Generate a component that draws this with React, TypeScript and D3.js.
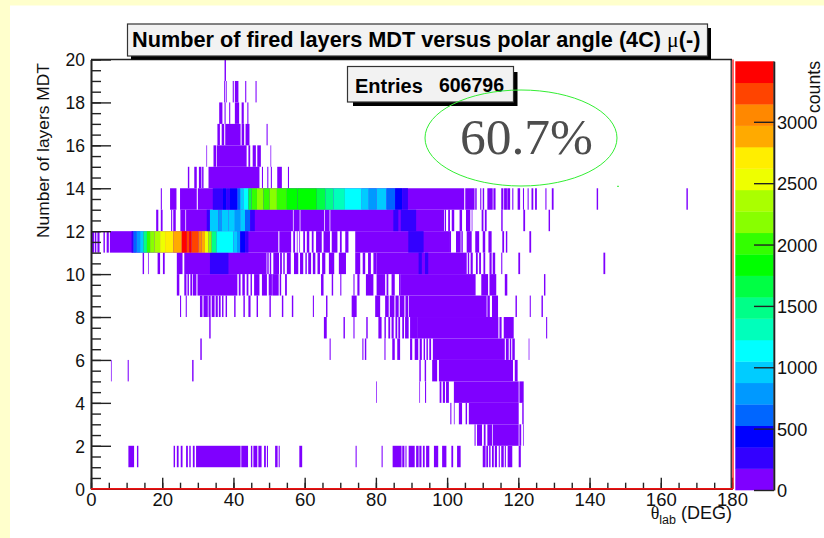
import React, { useEffect, useRef } from 'react';
import * as d3 from 'd3';

type Run = [number, number, number?];

const LOW = 60; // single low bins, all of them land in the first palette band

// palette bands from 0 counts upward
const palette = [
  '#7f00ff', '#3300ff', '#0000ff', '#0066ff', '#0099ff', '#00ccff', '#00ffff', '#00ffbb', '#00ff88', '#00ff44',
  '#00ff00', '#33ff00', '#88ff00', '#aaff00', '#eeff00', '#ffee00', '#ffaa00', '#ff8800', '#ff4400', '#ff0000',
];
const zMax = 3493;

const xMajor = [0, 20, 40, 60, 80, 100, 120, 140, 160, 180];
const xMinor = d3.range(0, 181, 5);
const yMajor = [0, 2, 4, 6, 8, 10, 12, 14, 16, 18, 20];
const yMinor = d3.range(0, 20.1, 0.5);
const zTicks = [0, 500, 1000, 1500, 2000, 2500, 3000];

// runs of filled bins per row of layers, [from deg, to deg, count]
const row1: Run[] = [[10.5, 12.1], [12.9, 13.3], [23.2, 23.6], [24.1, 24.6], [25.2, 25.7], [26.7, 27.2], [27.6, 28], [28.6, 29.1], [29.5, 42], [42.2, 44.1], [44.9, 45.3], [45.6, 46.7], [47, 47.9], [48.6, 49.1], [49.4, 49.7], [51.7, 52.4], [52.7, 53], [58.5, 59.3], [74.3, 74.6], [81.6, 81.9], [84.7, 87.2], [87.4, 88], [88.3, 88.6], [89.2, 90.9], [91.3, 92], [92.2, 92.8], [93.2, 93.7], [94.1, 95], [96.3, 97.5], [98.6, 99.8], [101.2, 101.7], [102.8, 103.8], [110, 110.8], [111, 111.5], [111.8, 112.2], [112.6, 113.1], [113.4, 114], [114.5, 114.8], [115.2, 115.9], [116.2, 116.5], [117, 118.3], [120.1, 120.7]];
const row2: Run[] = [[107.7, 108], [108.4, 109.8], [110.3, 110.8], [111.3, 112.6], [112.8, 120.1], [120.3, 120.8], [121.3, 121.5]];
const row3: Run[] = [[100.9, 101.2], [101.9, 102.1], [103.3, 104.2], [105.2, 105.6], [106.1, 120.1], [121.1, 121.5]];
const row4: Run[] = [[80.1, 80.3], [92.2, 92.4], [93.8, 94.1], [97.9, 98.4], [98.8, 99.4], [99.7, 100.5], [101.9, 120.1], [120.3, 121.5]];
const row5: Run[] = [[5.6, 5.8], [10.3, 10.6], [28.4, 28.8], [92.2, 92.6], [93.7, 94.1], [95.8, 97.2], [97.7, 118.5], [119, 119.8]];
const row6: Run[] = [[30.7, 31.1], [67, 67.3], [76.2, 76.5], [76.9, 77.3], [82.4, 82.7], [84.6, 85.3], [86, 86.8], [89.6, 90.2], [90.9, 91.9], [92.3, 92.9], [93.4, 93.8], [94.2, 94.6], [95, 95.5], [96, 116.2], [116.5, 117.3], [117.6, 118], [118.3, 119], [122.9, 123.1]];
const row7: Run[] = [[33.2, 33.6], [65.4, 66.2], [70.9, 71.3], [73.7, 74], [77.3, 77.7], [80.7, 81.6], [82.4, 82.8], [83.5, 84], [84.4, 85], [85.5, 86], [86.3, 86.8], [87.4, 87.9], [88.2, 89.2], [89.6, 91.8], [91.8, 114.4], [114.7, 115.3], [115.9, 118.7], [127.8, 128.1]];
const row8: Run[] = [[25, 25.3], [26.6, 26.9], [30.6, 31.3], [31.6, 32.8], [33, 33.6], [33.9, 34.7], [35, 35.6], [35.9, 36.4], [36.8, 37.2], [37.8, 38.2], [40.2, 40.6], [42.8, 43.2], [44.2, 44.8], [46.5, 46.9], [50.1, 50.5], [53.6, 54], [56.4, 56.8], [62.3, 62.6], [66, 66.4], [73.2, 74.6], [79.8, 81.2], [82.6, 83.6], [83.9, 85.2], [85.5, 86.4], [86.7, 88], [88.3, 89.1], [89.3, 111.1], [111.3, 112], [112.6, 114.3], [119.2, 119.6], [123.2, 123.5], [126.5, 126.9]];
const row9: Run[] = [[24.1, 24.8], [26.2, 26.8], [27.1, 27.5], [27.9, 28.4], [28.6, 29.6], [29.9, 41.1], [41.5, 42], [42.5, 43.2], [43.7, 44.2], [44.8, 45.2], [45.8, 47.3], [48, 49.4], [49.9, 50.8], [50.9, 52.7], [53, 53.4], [54.5, 55], [64.6, 65.3], [67.6, 68], [70, 70.3], [73.7, 74], [74.8, 75.4], [77.2, 79.3], [80.2, 82.6], [83, 83.5], [84.4, 85.3], [86.5, 87], [87, 108], [109.6, 111.5], [111.9, 113.8], [116.2, 116.9], [127.2, 127.6]];
const row10: Run[] = [[14.5, 14.9], [16, 16.2], [18.7, 19.4], [20.2, 20.7], [24.1, 25.7], [26.2, 49.3], [49.5, 49.9], [50.2, 50.6], [51.2, 52.8], [53.1, 53.6], [54, 54.4], [55, 56.1], [57, 58.2], [58.7, 59.6], [60.2, 60.6], [61, 61.8], [62.3, 63], [63.6, 64.3], [64.9, 65.8], [66.8, 68.3], [69.6, 71.6], [74.2, 75.6], [76.3, 77], [77.8, 78.6], [79.3, 80.2], [80.2, 105.5], [105.8, 106.2], [106.6, 107.2], [108.1, 108.6], [109, 109.5], [110.2, 110.7], [111.9, 112.5], [112.8, 113.5], [115.2, 115.5], [120, 120.5], [143.9, 144.4]];
const row11: Run[] = [[0.1, 0.9], [1.1, 1.5], [1.8, 2.4], [3.5, 3.9], [4.4, 5], [5.3, 52.6], [52.9, 56.2], [56.8, 57.3], [57.8, 58], [58.5, 58.7], [59.6, 60.1], [60.6, 61.3], [62, 62.5], [63.2, 64.8], [65.3, 67.1], [67.6, 69.2], [69.9, 70.4], [71.4, 72.3], [74.2, 100.8], [100.8, 101.1], [102.5, 103.8], [104, 104.4], [105.5, 106.9], [107.9, 109], [110, 110.7], [111.6, 112.5], [115.5, 116], [116.5, 116.9], [123.1, 123.6]];
const row12: Run[] = [[18.3, 18.9], [19.6, 20.1], [22.5, 22.8], [23.1, 23.8], [25.1, 26.5], [26.7, 56.7], [56.9, 58.6], [58.8, 65.5], [65.7, 67], [67.2, 99.2], [99.4, 99.7], [100.3, 100.8], [101.3, 102], [103.5, 104.2], [105.3, 106.5], [106.9, 107.1], [109.7, 110.2], [110.6, 111.1], [115.2, 115.6], [121.4, 121.9], [128.5, 128.9]];
const row13: Run[] = [[19.6, 19.9], [22.2, 24], [25, 29.7], [30, 104.8], [105.1, 107.7], [107.9, 108.3], [109.3, 109.6], [110, 110.4], [111.3, 112.8], [113, 113.6], [115.2, 115.8], [116, 116.8], [116.9, 117.7], [118.3, 118.6], [119.8, 120.5], [121.3, 121.6], [122.6, 122.9], [123.7, 124.2], [124.7, 125.2], [127.6, 127.9], [129.4, 129.9], [142, 142.4], [167.2, 167.6]];
const row14: Run[] = [[27.2, 27.6], [29, 29.7], [30.3, 31], [31.2, 31.6], [33, 47.3], [48, 48.3], [49.5, 49.8], [50.5, 50.8], [52.3, 53.6], [55.3, 55.6]];
const row15: Run[] = [[32.4, 32.6], [34.4, 35.1], [35.3, 43.7], [44.2, 44.7], [45.4, 46.3], [46.7, 47.7], [50.4, 50.6]];
const row16: Run[] = [[35.5, 36.2], [36.7, 37.4], [37.7, 42], [42.3, 43], [43.4, 44.5], [49.3, 49.6]];
const row17: Run[] = [[36, 36.9], [37.5, 37.8], [38.8, 39.1], [40.4, 41.6], [42.3, 42.9], [43.9, 44.2]];
const row18: Run[] = [[37.4, 37.7], [37.9, 38.1], [39.8, 40.1], [40.4, 41.4], [43.3, 43.6], [46.2, 46.5]];
const row19: Run[] = [[37.5, 37.9]];

// the hotter stretches, painted over the low runs
const hot10: Run[] = [[33.4, 38.6, 260], [92, 92.9, 260], [93.8, 94.7, 260]];
const hot11: Run[] = [[11.4, 11.9, 260], [11.9, 12.8, 610], [12.8, 13.8, 790], [13.8, 14.7, 960], [14.7, 15.7, 1490], [15.7, 16.6, 2010], [16.6, 17.8, 2190], [17.8, 19.4, 2360], [19.4, 20.8, 2540], [20.8, 23.1, 2710], [23.1, 25.5, 2890], [25.5, 26.9, 3410], [26.9, 27.6, 3240], [27.6, 28.2, 3410], [28.2, 30.2, 3240], [30.2, 31.1, 3060], [31.1, 32, 2890], [32, 33, 2540], [33, 33.9, 2190], [33.9, 35.3, 1490], [35.3, 40, 1140], [40, 41, 960], [41, 41.9, 790], [41.9, 43.3, 440], [43.3, 44.2, 260], [89.1, 93.4, 260]];
const hot12: Run[] = [[32.5, 33.4, 260], [33.4, 35.8, 960], [35.8, 36.7, 790], [36.7, 38.6, 880], [38.6, 40.4, 960], [40.4, 41.9, 790], [41.9, 43.3, 960], [43.3, 44.7, 610], [44.7, 46, 260], [84.9, 86.3, 260], [87, 91.3, 260]];
const hot13: Run[] = [[34.2, 37, 260], [37, 38, 440], [38, 39, 260], [39, 41.1, 440], [41.1, 41.9, 610], [41.9, 42.8, 960], [42.8, 44.2, 1140], [44.2, 45.1, 1660], [45.1, 46.6, 2010], [46.6, 48.4, 2190], [48.4, 50.2, 2010], [50.2, 52.2, 2190], [52.2, 55, 2010], [55, 58, 1840], [58, 63.4, 1840], [63.4, 65.8, 1660], [65.8, 68.1, 1490], [68.1, 71.3, 1310], [71.3, 76, 1140], [76, 78, 960], [78, 80.2, 790], [80.2, 83, 880], [83, 85.4, 610], [85.4, 87.4, 440], [87.4, 89, 260]];

const lowRows = [row1, row2, row3, row4, row5, row6, row7, row8, row9, row10, row11, row12, row13, row14, row15, row16, row17, row18, row19];
const hotRows: [number, Run[]][] = [[10, hot10], [11, hot11], [12, hot12], [13, hot13]];

const SANS = '"Liberation Sans", Arial, sans-serif';
const SERIF = '"Liberation Serif", serif';

export default function App() {
  const svgRef = useRef<SVGSVGElement>(null);

  useEffect(() => {
    const svg = d3.select(svgRef.current);
    svg.selectAll('*').remove();

    const x = d3.scaleLinear().domain([0, 180]).range([91, 732]);
    const y = d3.scaleLinear().domain([0, 20]).range([488.7, 59.5]);
    const zY = d3.scaleLinear().domain([0, zMax]).range([490, 61.3]);
    const color = d3.scaleQuantize<string>().domain([0, zMax]).range(palette);

    // page background
    svg.append('rect').attr('width', 824).attr('height', 538).attr('fill', '#ffffcc');
    svg.append('rect').attr('x', 10).attr('y', 5.5).attr('width', 814).attr('height', 533).attr('fill', '#ffffff');

    // heat map cells
    const cells = svg.append('g');
    const drawRuns = (runs: Run[], lower: number) => {
      cells.append('g').selectAll('rect').data(runs).join('rect')
        .attr('x', d => x(d[0]))
        .attr('width', d => x(d[1]) - x(d[0]))
        .attr('y', y(lower + 1))
        .attr('height', y(lower) - y(lower + 1))
        .attr('fill', d => color(d[2] ?? LOW));
    };
    lowRows.forEach((runs, i) => drawRuns(runs, i + 1));
    hotRows.forEach(([lower, runs]) => drawRuns(runs, lower));

    // axes
    const styleAxis = (g: any) => {
      g.selectAll('line').attr('stroke', '#222').attr('stroke-width', 1.4);
      g.selectAll('path').attr('stroke', '#222').attr('stroke-width', 1.6);
      g.selectAll('text').attr('fill', '#111').attr('font-family', SANS);
    };

    svg.append('g').attr('transform', 'translate(0,488.7)')
      .call(d3.axisBottom(x).tickValues(xMinor).tickSize(-6).tickSizeOuter(0).tickFormat(() => ''))
      .call(styleAxis);
    svg.append('g').attr('transform', 'translate(0,488.7)')
      .call(d3.axisBottom(x).tickValues(xMajor).tickSize(-11).tickSizeOuter(0).tickPadding(18).tickFormat(d3.format('d')))
      .call(styleAxis)
      .selectAll('text').attr('font-size', 18.5).attr('dy', 0).attr('y', 17);

    svg.append('g').attr('transform', 'translate(91,0)')
      .call(d3.axisLeft(y).tickValues(yMinor).tickSize(-10).tickSizeOuter(0).tickFormat(() => ''))
      .call(styleAxis);
    svg.append('g').attr('transform', 'translate(91,0)')
      .call(d3.axisLeft(y).tickValues(yMajor).tickSize(-20).tickSizeOuter(0).tickPadding(6).tickFormat(d3.format('d')))
      .call(styleAxis)
      .selectAll('text').attr('font-size', 17.5).attr('dy', '0.36em');

    // frame
    svg.append('line').attr('x1', 91).attr('x2', 732).attr('y1', 59.5).attr('y2', 59.5).attr('stroke', '#222').attr('stroke-width', 1.4);
    svg.append('line').attr('x1', 731.2).attr('x2', 731.2).attr('y1', 59.5).attr('y2', 489).attr('stroke', '#111').attr('stroke-width', 1.2);
    svg.append('line').attr('x1', 733).attr('x2', 733).attr('y1', 59.5).attr('y2', 489).attr('stroke', '#ff2020').attr('stroke-width', 1.4);
    svg.append('line').attr('x1', 91).attr('x2', 733).attr('y1', 488.8).attr('y2', 488.8).attr('stroke', '#ee1111').attr('stroke-width', 1.8);

    // colour bar
    const bands = d3.range(palette.length);
    const bandH = zMax / palette.length;
    svg.append('g').selectAll('rect').data(bands).join('rect')
      .attr('x', 735.3)
      .attr('width', 38.4)
      .attr('y', d => zY((d + 1) * bandH))
      .attr('height', d => zY(d * bandH) - zY((d + 1) * bandH) + 0.3)
      .attr('fill', d => palette[d]);
    svg.append('g').attr('transform', 'translate(774,0)')
      .call(d3.axisRight(zY).tickValues(zTicks).tickSize(-20).tickSizeOuter(0).tickPadding(3).tickFormat(d3.format('d')))
      .call(styleAxis)
      .selectAll('text').attr('font-size', 18.2).attr('dy', '0.36em');
    svg.append('line').attr('x1', 774).attr('x2', 774).attr('y1', 61.3).attr('y2', 490).attr('stroke', '#222').attr('stroke-width', 1);

    // titles
    svg.append('text').attr('transform', 'translate(49,150.5) rotate(-90)').attr('text-anchor', 'middle')
      .attr('font-family', SANS).attr('font-size', 17.4).attr('fill', '#111').text('Number of layers MDT');
    svg.append('text').attr('transform', 'translate(820,87) rotate(-90)').attr('text-anchor', 'middle')
      .attr('font-family', SANS).attr('font-size', 17.7).attr('fill', '#111').text('counts');

    const xTitle = svg.append('text').attr('x', 732).attr('y', 519).attr('text-anchor', 'end')
      .attr('font-family', SANS).attr('font-size', 18).attr('fill', '#111');
    xTitle.append('tspan').attr('font-family', SERIF).text('θ');
    xTitle.append('tspan').attr('font-size', 12.5).attr('dy', 5).text('lab');
    xTitle.append('tspan').attr('dy', -5).text(' (DEG)');

    // title box
    svg.append('rect').attr('x', 131).attr('y', 28).attr('width', 580).attr('height', 31.5).attr('fill', '#000');
    svg.append('rect').attr('x', 127.5).attr('y', 24).attr('width', 580).attr('height', 32).attr('fill', '#f2f2f2').attr('stroke', '#333').attr('stroke-width', 1.2);
    const title = svg.append('text').attr('x', 132).attr('y', 47).attr('font-family', SANS)
      .attr('font-size', 21.7).attr('font-weight', 700).attr('fill', '#000');
    title.append('tspan').text('Number of fired layers MDT versus polar angle (4C) ');
    title.append('tspan').attr('font-family', SERIF).attr('font-weight', 400).text('μ');
    title.append('tspan').text('(-)');

    // stats box
    svg.append('rect').attr('x', 353).attr('y', 72).attr('width', 164.5).attr('height', 34).attr('fill', '#000');
    svg.append('rect').attr('x', 347.5).attr('y', 66.5).attr('width', 166).attr('height', 35.5).attr('fill', '#f2f2f2').attr('stroke', '#333').attr('stroke-width', 1.2);
    svg.append('text').attr('x', 355).attr('y', 93).attr('font-family', SANS).attr('font-size', 20).attr('font-weight', 700).text('Entries');
    svg.append('text').attr('x', 504).attr('y', 92).attr('text-anchor', 'end').attr('font-family', SANS).attr('font-size', 19.5).attr('font-weight', 700).text('606796');

    // annotation
    svg.append('ellipse').attr('cx', 521).attr('cy', 138).attr('rx', 96).attr('ry', 48)
      .attr('fill', 'none').attr('stroke', '#33ee33').attr('stroke-width', 1);
    svg.append('text').attr('x', 526.5).attr('y', 154).attr('text-anchor', 'middle').attr('font-family', SERIF)
      .attr('font-size', 51.5).attr('fill', '#4d4d4d').text('60.7%');
    svg.append('line').attr('x1', 617).attr('x2', 619).attr('y1', 186.3).attr('y2', 186.3).attr('stroke', '#33ee33').attr('stroke-width', 1);
  }, []);

  return (
    <svg
      ref={svgRef}
      width={824}
      height={538}
      style={{ position: 'absolute', left: 0, top: 0, display: 'block' }}
    />
  );
}
